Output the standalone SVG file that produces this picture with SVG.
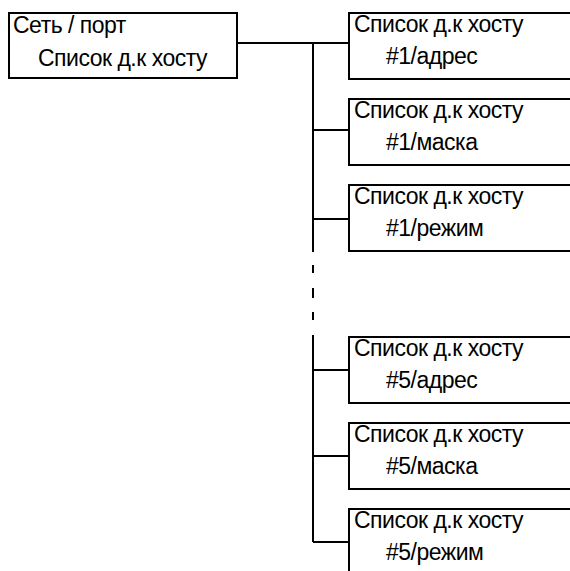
<svg xmlns="http://www.w3.org/2000/svg" width="570" height="571" viewBox="0 0 570 571">
<style>
.box{fill:#fff;stroke:#000;stroke-width:2}
.t{font-family:"Liberation Sans",Arial,sans-serif;font-size:23px;fill:#000;letter-spacing:-0.5px}
.c{fill:none;stroke:#000;stroke-width:2}
</style>
<g id="connectors">
<path class="c" d="M237 43H349M313 43V252M313 219H349M313 130H349M313 335V542M313 370H349M313 456H349M313 542H349"/>
<path class="c" d="M313 265V273M313 288V298M313 312V320"/>
</g>
<g id="root"><rect class="box" x="9" y="13" width="228" height="65"/>
<text class="t" x="13" y="33">Сеть / порт</text><text class="t" x="38" y="66">Список д.к хосту</text></g>
<g id="n1"><rect class="box" x="349" y="13" width="240" height="66"/>
<text class="t" x="354" y="32">Список д.к хосту</text><text class="t" x="386" y="64">#1/адрес</text></g>
<g id="n2"><rect class="box" x="349" y="99" width="240" height="66"/>
<text class="t" x="354" y="118">Список д.к хосту</text><text class="t" x="386" y="150">#1/маска</text></g>
<g id="n3"><rect class="box" x="349" y="185" width="240" height="66"/>
<text class="t" x="354" y="204">Список д.к хосту</text><text class="t" x="386" y="236">#1/режим</text></g>
<g id="n4"><rect class="box" x="349" y="337" width="240" height="66"/>
<text class="t" x="354" y="356">Список д.к хосту</text><text class="t" x="386" y="388">#5/адрес</text></g>
<g id="n5"><rect class="box" x="349" y="423" width="240" height="66"/>
<text class="t" x="354" y="442">Список д.к хосту</text><text class="t" x="386" y="474">#5/маска</text></g>
<g id="n6"><rect class="box" x="349" y="509" width="240" height="66"/>
<text class="t" x="354" y="528">Список д.к хосту</text><text class="t" x="386" y="560">#5/режим</text></g>
</svg>
